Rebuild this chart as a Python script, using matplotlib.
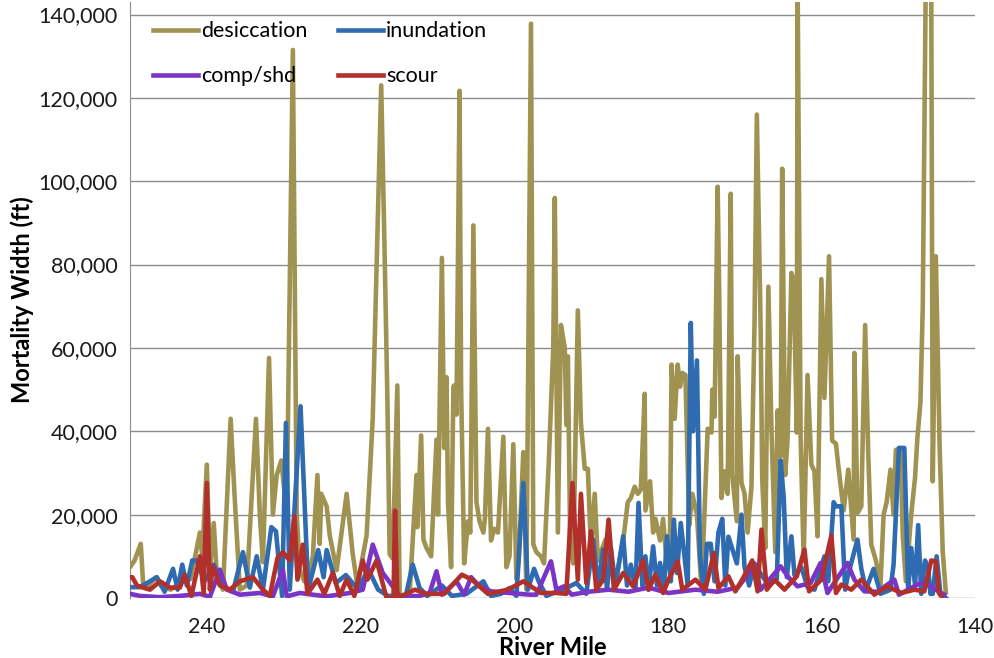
import matplotlib
matplotlib.use("Agg")
import matplotlib.pyplot as plt
from matplotlib.ticker import FuncFormatter

# river mile / mortality width (ft)
des_mile = [250.0, 249.4, 248.6, 248.3, 247.7, 246.6, 246.0, 244.7, 243.4, 242.1,
            240.9, 240.6, 240.0, 239.6, 239.1, 238.7, 237.9, 236.9, 236.4, 235.7,
            234.8, 233.6, 233.1, 232.7, 231.9, 231.4, 230.9, 230.3, 229.6, 228.8,
            228.3, 227.9, 227.3, 226.9, 226.2, 225.6, 225.3, 225.1, 224.4, 224.0,
            223.1, 221.8, 221.0, 220.4, 219.2, 218.4, 217.3, 216.9, 216.5, 216.2,
            215.8, 215.2, 214.9, 214.3, 213.6, 212.7, 212.6, 212.1, 211.8, 211.4,
            210.8, 210.1, 209.9, 209.4, 209.1, 208.8, 208.6, 208.2, 207.9, 207.8,
            207.5, 207.1, 206.9, 206.5, 206.0, 205.7, 205.3, 204.9, 204.5, 204.0,
            203.8, 203.4, 203.0, 202.6, 202.1, 201.4, 201.0, 200.6, 200.1, 199.7,
            199.4, 198.8, 198.4, 197.8, 197.5, 197.1, 196.5, 196.1, 195.5, 194.9,
            194.7, 194.3, 193.9, 193.4, 193.2, 193.0, 192.7, 192.3, 191.7, 191.3,
            190.8, 190.4, 190.0, 189.5, 189.1, 188.1, 187.4, 186.8, 185.8, 185.2,
            184.8, 184.3, 183.9, 183.5, 183.0, 182.9, 182.3, 181.9, 181.6, 181.0,
            180.6, 180.1, 179.7, 179.5, 179.1, 178.7, 178.4, 178.1, 177.7, 177.2,
            176.8, 176.2, 175.6, 174.8, 174.3, 174.2, 173.9, 173.5, 173.3, 173.0,
            172.6, 172.2, 171.8, 171.6, 171.0, 170.9, 170.4, 170.0, 169.6, 169.1,
            168.7, 168.4, 167.9, 167.7, 167.3, 166.9, 166.5, 166.0, 165.7, 165.3,
            165.1, 164.7, 164.4, 163.9, 163.6, 163.2, 163.1, 162.7, 162.3, 161.8,
            161.3, 160.9, 160.5, 160.0, 159.6, 159.0, 158.6, 158.1, 157.8, 157.1,
            156.5, 155.8, 155.7, 155.3, 154.8, 154.3, 153.9, 153.5, 152.9, 152.3,
            151.9, 151.5, 151.0, 150.6, 150.3, 149.7, 149.4, 149.0, 148.3, 147.8,
            147.5, 147.1, 146.8, 146.4, 146.0, 145.7, 145.5, 145.1, 144.6, 144.2,
            143.8]
des_val = [7400, 9000, 13000, 3700, 2800, 5000, 3000, 2000, 3700, 4600,
           15700, 10000, 32000, 6500, 18000, 5500, 2000, 43000, 25000, 2000,
           3000, 43000, 20000, 8600, 57600, 20000, 29500, 33000, 20000, 131500,
           20000, 6700, 4000, 4000, 10000, 29500, 13000, 25000, 22000, 15000,
           6700, 25000, 10500, 3000, 15000, 43000, 123000, 87000, 48500, 10500,
           9500, 51000, 1000, 500, 1000, 29500, 17000, 39000, 14000, 12000,
           10000, 38000, 20000, 81600, 36000, 53000, 23000, 7400, 50700, 51000,
           44000, 121700, 50700, 8300, 18400, 15700, 89400, 23000, 18400, 15700,
           19000, 40600, 13800, 16600, 15700, 38700, 7400, 10000, 36900, 4600,
           9000, 35000, 2000, 137800, 12900, 11000, 10000, 8300, 32000, 60000,
           96000, 15700, 65500, 60000, 41500, 58000, 13800, 8300, 69000, 42000,
           31000, 31000, 12000, 25000, 9000, 14000, 6500, 3700, 13800, 23000,
           24000, 26700, 25000, 26000, 49000, 21000, 28000, 15700, 19000, 13800,
           19000, 7400, 15700, 56000, 43000, 56000, 50700, 54000, 53500, 17500,
           25000, 20000, 2000, 40600, 39700, 50000, 43500, 98700, 73000, 24000,
           30400, 25000, 97000, 29500, 18400, 58000, 27700, 25000, 15700, 26700,
           66000, 116000, 64500, 28600, 12000, 74700, 40600, 11000, 45000, 34000,
           103000, 29500, 38000, 78000, 76000, 39700, 150000, 38700, 9000, 53500,
           32000, 30400, 14800, 76500, 48000, 82000, 37800, 37000, 31800, 21000,
           30800, 14000, 58800, 20400, 22000, 65500, 34600, 12800, 9000, 3300,
           20000, 23000, 30800, 20000, 35500, 36000, 14700, 4000, 20000, 29000,
           38400, 47000, 70000, 150000, 160000, 150000, 28000, 82000, 36000, 11000,
           1400]

inu_mile = [250.0, 248.7, 246.5, 245.5, 244.4, 243.8, 243.2, 242.6, 241.9, 241.3,
            240.3, 239.1, 238.0, 236.6, 235.3, 234.4, 233.5, 232.7, 231.6, 231.0,
            230.2, 229.7, 229.2, 227.8, 226.8, 225.5, 224.8, 224.4, 223.2, 221.9,
            220.3, 219.0, 217.7, 216.4, 215.1, 214.1, 213.2, 212.3, 211.3, 209.4,
            208.1, 206.2, 204.0, 203.0, 201.7, 200.6, 199.7, 198.8, 198.2, 197.4,
            196.8, 195.8, 194.5, 193.6, 191.9, 190.6, 189.7, 189.1, 188.4, 187.9,
            187.4, 186.8, 185.8, 185.3, 184.8, 184.2, 183.8, 183.3, 182.9, 182.5,
            181.9, 181.4, 181.0, 180.5, 180.1, 179.6, 179.2, 178.8, 178.3, 177.4,
            177.0, 176.7, 176.2, 175.8, 175.3, 174.9, 174.4, 173.9, 173.4, 172.9,
            172.5, 172.1, 171.0, 170.4, 170.0, 169.4, 168.7, 167.8, 166.8, 165.8,
            165.3, 164.9, 164.5, 163.9, 163.5, 162.6, 161.8, 160.9, 159.6, 159.1,
            158.4, 158.1, 157.4, 156.9, 156.6, 155.3, 154.8, 154.2, 153.2, 152.3,
            151.0, 150.6, 149.9, 149.6, 149.2, 148.7, 148.3, 147.8, 147.4, 147.0,
            146.5, 146.1, 145.8, 145.5, 145.0, 144.5, 143.8]
inu_val = [2600, 2600, 5000, 1500, 7000, 2000, 8000, 3000, 9000, 9000,
           4000, 8000, 3000, 1500, 11000, 2500, 10000, 2000, 17000, 16000,
           500, 42000, 2000, 46000, 2000, 11500, 5000, 11500, 3600, 5500,
           2000, 7000, 2000, 500, 500, 500, 8000, 2400, 500, 3000,
           500, 1000, 4000, 500, 1000, 2400, 500, 27600, 2000, 7000,
           4000, 500, 1500, 2000, 3600, 1000, 14000, 3000, 11600, 2000,
           12000, 3000, 14800, 3000, 8000, 2000, 22800, 3000, 10000, 2000,
           12400, 3000, 8400, 2000, 14800, 4000, 18800, 6000, 18000, 3000,
           66000, 40000, 57000, 10000, 1000, 13000, 13000, 4000, 15700, 19000,
           3000, 14700, 8300, 20000, 7400, 3000, 8300, 5500, 3000, 4600,
           33000, 24000, 5000, 14800, 5500, 7400, 2600, 2000, 10000, 4000,
           23000, 22000, 22000, 2000, 5000, 14000, 7000, 2000, 7000, 1000,
           2000, 8000, 36000, 36000, 36000, 2000, 12000, 3000, 17500, 1000,
           9000, 7000, 1000, 1000, 10000, 1000, 0]

cmp_mile = [250.0, 248.7, 246.1, 243.5, 240.9, 239.6, 238.3, 237.4, 235.7, 233.1,
            231.4, 230.1, 229.6, 227.9, 226.2, 224.4, 221.4, 219.7, 218.4, 217.1,
            215.8, 214.9, 212.3, 211.0, 210.1, 209.4, 207.5, 206.5, 205.6, 204.5,
            203.0, 200.6, 198.0, 197.1, 195.2, 194.5, 193.5, 192.5, 190.3, 187.7,
            185.1, 182.5, 179.9, 176.4, 173.5, 170.9, 168.7, 167.9, 165.3, 164.2,
            163.1, 161.4, 160.1, 159.2, 156.6, 155.7, 154.4, 152.7, 150.5, 149.9,
            147.1, 146.2, 144.0]
cmp_val = [1000, 500, 200, 500, 1000, 300, 6800, 2000, 800, 1200,
           400, 6800, 400, 1200, 800, 400, 1200, 2000, 12800, 6000,
           2800, 400, 500, 1200, 6400, 800, 4000, 800, 5000, 2800,
           1600, 1200, 800, 800, 8800, 2000, 2800, 800, 1500, 2000,
           1500, 2500, 1200, 2000, 1500, 2500, 7600, 2000, 7600, 4800,
           2800, 3600, 8400, 1200, 8400, 4400, 1600, 1500, 4400, 800,
           3600, 3200, 800]

sco_mile = [250.0, 249.7, 249.1, 248.3, 247.4, 246.1, 244.8, 243.5, 242.9, 242.0,
            240.9, 240.4, 240.0, 239.6, 239.2, 238.3, 237.0, 235.7, 234.0, 232.7,
            231.8, 230.8, 230.1, 229.2, 228.6, 228.2, 227.5, 226.9, 225.6, 224.7,
            223.6, 222.7, 221.8, 220.8, 219.7, 219.1, 217.9, 216.6, 215.7, 215.5,
            215.2, 212.9, 211.4, 209.1, 206.8, 205.5, 203.4, 200.8, 198.8, 196.5,
            194.5, 193.2, 192.4, 191.7, 191.3, 190.6, 190.0, 189.3, 188.4, 187.7,
            187.0, 185.8, 184.5, 183.2, 182.5, 181.6, 180.6, 179.9, 178.7, 178.1,
            176.4, 175.1, 174.0, 173.4, 172.1, 171.2, 170.3, 169.0, 168.3, 167.8,
            167.1, 166.1, 164.8, 163.2, 162.2, 161.6, 160.0, 158.7, 158.1, 157.4,
            156.1, 154.8, 153.1, 151.4, 149.6, 147.9, 146.6, 145.7, 145.1, 144.7,
            144.4]
sco_val = [5000, 5000, 3000, 2500, 2000, 4000, 2500, 2500, 5600, 500,
           10000, 1000, 27600, 2000, 7600, 3000, 2000, 4000, 5000, 2000,
           500, 9600, 11000, 9000, 19600, 4400, 12800, 1000, 4400, 1000,
           6000, 500, 4400, 500, 9000, 4400, 9000, 0, 0, 21000,
           0, 2000, 1000, 1000, 5600, 4400, 1000, 2000, 4000, 1200,
           1200, 1000, 27600, 4400, 25000, 3600, 16000, 2000, 4400, 18800,
           2000, 6000, 2800, 9000, 2000, 5600, 1200, 4400, 8800, 2000,
           4400, 2000, 10800, 2400, 5200, 1600, 4400, 9000, 1600, 16400,
           2000, 4400, 2000, 5200, 11600, 1600, 4400, 15000, 1200, 3200,
           2000, 4400, 800, 2800, 1200, 2000, 1600, 9000, 8800, 1200,
           500]

c_des = "#A09352"
c_inu = "#2E6BB0"
c_cmp = "#7A35C6"
c_sco = "#B2302B"

plt.rcParams["font.family"] = ["Lato", "DejaVu Sans"]

fig = plt.figure(figsize=(9.95, 6.58), dpi=100)
ax = fig.add_axes([130 / 995, 60 / 658, 845 / 995, 596 / 658])

lw = 3.3
l_des, = ax.plot(des_mile, des_val, color=c_des, lw=lw, solid_joinstyle="round", label="desiccation", zorder=3)
l_inu, = ax.plot(inu_mile, inu_val, color=c_inu, lw=lw, solid_joinstyle="round", label="inundation", zorder=4)
l_cmp, = ax.plot(cmp_mile, cmp_val, color=c_cmp, lw=lw, solid_joinstyle="round", label="comp/shd", zorder=5)
l_sco, = ax.plot(sco_mile, sco_val, color=c_sco, lw=lw, solid_joinstyle="round", label="scour", zorder=6)

ax.set_xlim(250, 140)
ax.set_ylim(0, 143000)
ax.set_xticks([240, 220, 200, 180, 160, 140])
ax.set_yticks(range(0, 140001, 20000))
ax.yaxis.set_major_formatter(FuncFormatter(lambda v, p: f"{int(v):,}"))
ax.grid(axis="y", color="#8C8C8C", lw=1.0)
ax.set_axisbelow(True)
for s in ["top", "right", "bottom"]:
    ax.spines[s].set_visible(False)
ax.spines["left"].set_color("#8C8C8C")
ax.tick_params(axis="both", length=0, labelsize=15.5, colors="#1A1A1A")
ax.tick_params(axis="x", pad=14)
ax.tick_params(axis="y", pad=9)

ax.set_xlabel("River Mile", fontsize=17, fontweight="bold", labelpad=-1)
ax.set_ylabel("Mortality Width (ft)", fontsize=17, fontweight="bold", labelpad=3)

ax.legend(handles=[l_des, l_cmp, l_inu, l_sco], ncol=2, loc="upper left",
          bbox_to_anchor=(0.004, 1.0), frameon=False, fontsize=15.5,
          handlelength=2.1, handletextpad=0.15, columnspacing=1.4, labelspacing=1.15)

fig.savefig("out.png", dpi=100)
